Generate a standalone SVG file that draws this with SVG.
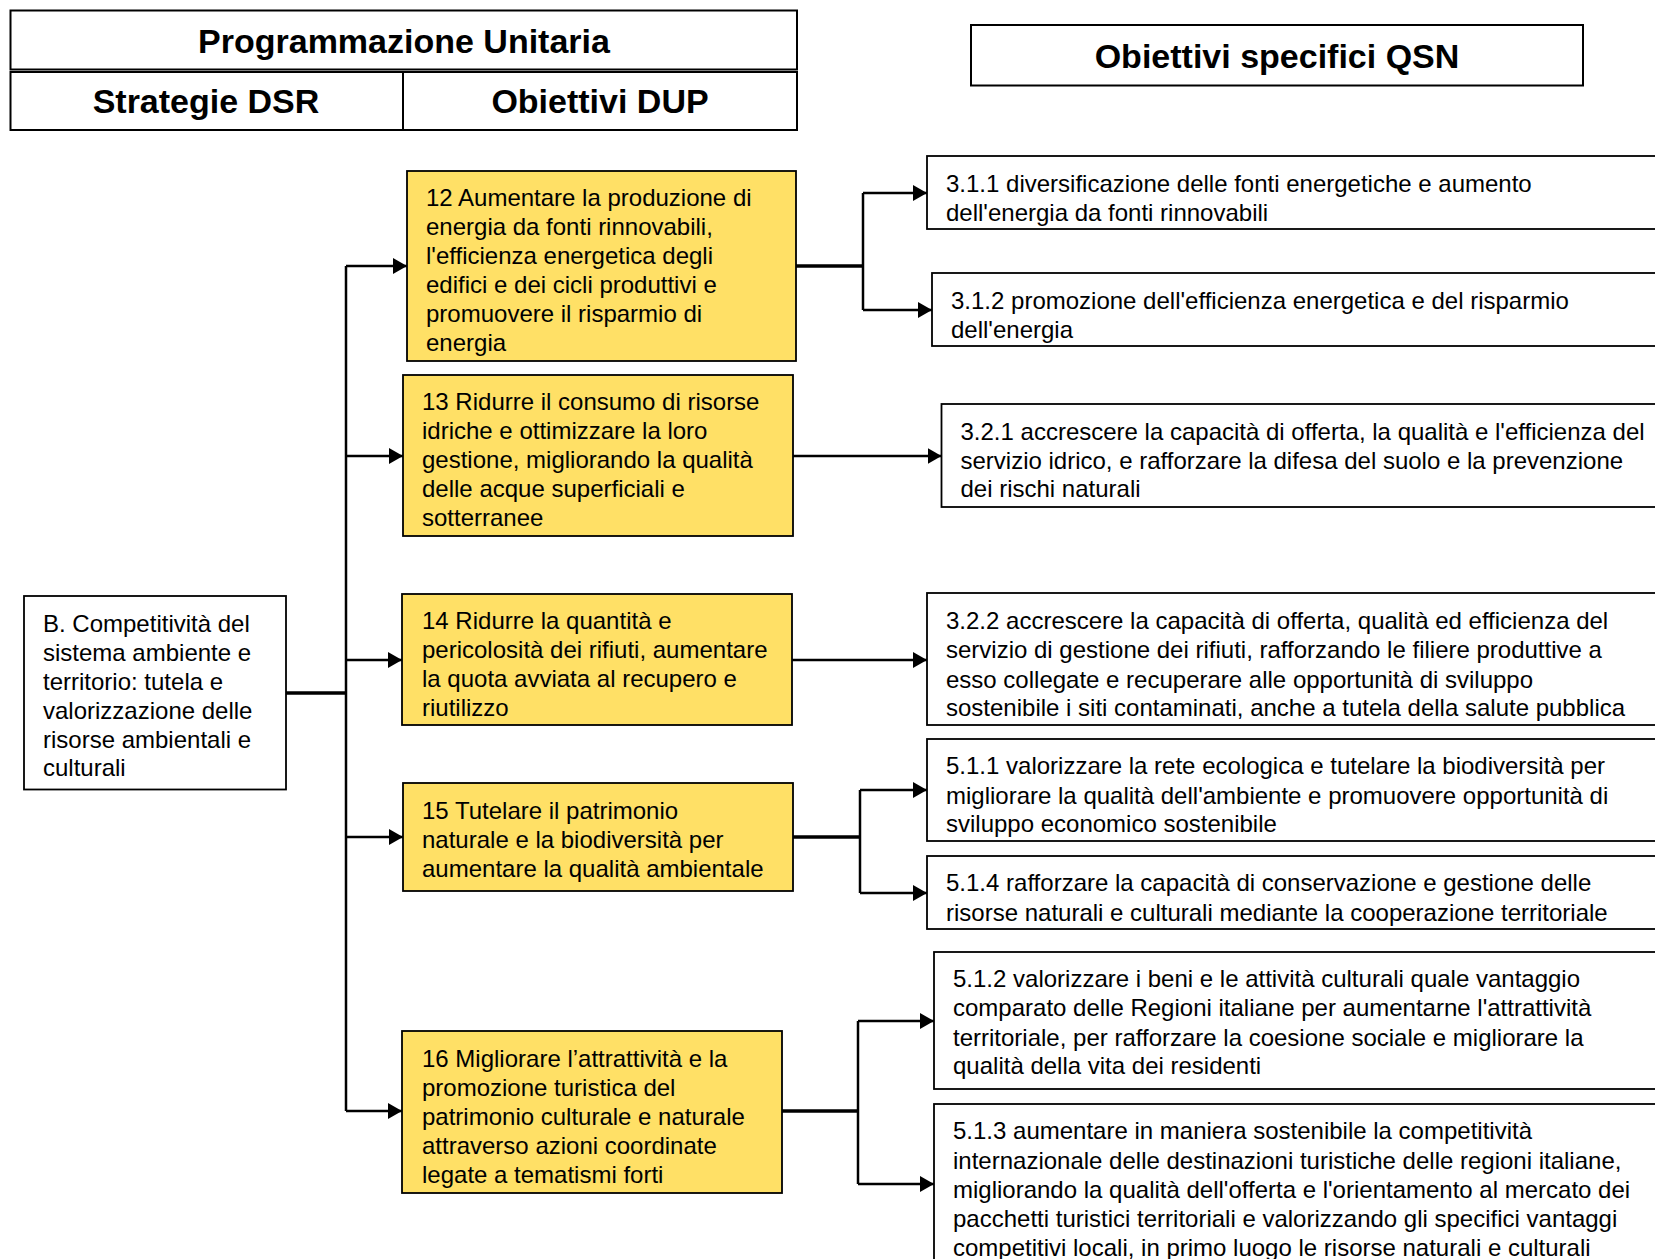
<svg xmlns="http://www.w3.org/2000/svg" width="1655" height="1259" viewBox="0 0 1655 1259">
<style>
.hdr{fill:#fff;stroke:#000;stroke-width:2}
.ht{font-family:"Liberation Sans",Arial,sans-serif;font-size:34px;font-weight:bold;text-anchor:middle;fill:#000}
.box{fill:#fff;stroke:#000;stroke-width:1.8}
.ybox{fill:#FFE066;stroke:#000;stroke-width:1.8}
.t{font-family:"Liberation Sans",Arial,sans-serif;font-size:24px;fill:#000}
.c{fill:none;stroke:#000;stroke-width:2.5}
.ct{fill:none;stroke:#000;stroke-width:3.5}
</style>
<defs>
<marker id="ah" markerUnits="userSpaceOnUse" markerWidth="14" markerHeight="16" refX="14" refY="8" orient="auto">
<path d="M0,0 L14,8 L0,16 z" fill="#000"/>
</marker>
</defs>
<rect width="1655" height="1259" fill="#fff"/>

<g id="header-pu">
<rect class="hdr" x="10.5" y="10.5" width="786.5" height="59"/>
<rect class="hdr" x="10.5" y="72" width="786.5" height="58"/>
<line x1="403" y1="72" x2="403" y2="130" stroke="#000" stroke-width="2"/>
<text class="ht" x="404" y="53">Programmazione Unitaria</text>
<text class="ht" x="206" y="113">Strategie DSR</text>
<text class="ht" x="600" y="113">Obiettivi DUP</text>
</g>

<g id="header-qsn">
<rect class="hdr" x="971" y="25" width="612" height="60.5"/>
<text class="ht" x="1277" y="68">Obiettivi specifici QSN</text>
</g>

<g id="node-B">
<rect class="box" x="24" y="596" width="262" height="193.5"/>
<text class="t" x="43" y="632">B. Competitività del</text>
<text class="t" x="43" y="661">sistema ambiente e</text>
<text class="t" x="43" y="690">territorio: tutela e</text>
<text class="t" x="43" y="719">valorizzazione delle</text>
<text class="t" x="43" y="748">risorse ambientali e</text>
<text class="t" x="43" y="776">culturali</text>
</g>

<g id="node-12">
<rect class="ybox" x="407" y="171" width="389" height="190"/>
<text class="t" x="426" y="206">12 Aumentare la produzione di</text>
<text class="t" x="426" y="235">energia da fonti rinnovabili,</text>
<text class="t" x="426" y="264">l'efficienza energetica degli</text>
<text class="t" x="426" y="293">edifici e dei cicli produttivi e</text>
<text class="t" x="426" y="322">promuovere il risparmio di</text>
<text class="t" x="426" y="351">energia</text>
</g>

<g id="node-13">
<rect class="ybox" x="403" y="375" width="390" height="161"/>
<text class="t" x="422" y="410">13 Ridurre il consumo di risorse</text>
<text class="t" x="422" y="439">idriche e ottimizzare la loro</text>
<text class="t" x="422" y="468">gestione, migliorando la qualità</text>
<text class="t" x="422" y="497">delle acque superficiali e</text>
<text class="t" x="422" y="526">sotterranee</text>
</g>

<g id="node-14">
<rect class="ybox" x="402" y="594" width="390" height="131"/>
<text class="t" x="422" y="629">14 Ridurre la quantità e</text>
<text class="t" x="422" y="658">pericolosità dei rifiuti, aumentare</text>
<text class="t" x="422" y="687">la quota avviata al recupero e</text>
<text class="t" x="422" y="716">riutilizzo</text>
</g>

<g id="node-15">
<rect class="ybox" x="403" y="783" width="390" height="108"/>
<text class="t" x="422" y="819">15 Tutelare il patrimonio</text>
<text class="t" x="422" y="848">naturale e la biodiversità per</text>
<text class="t" x="422" y="877">aumentare la qualità ambientale</text>
</g>

<g id="node-16">
<rect class="ybox" x="402" y="1031" width="380" height="162"/>
<text class="t" x="422" y="1067">16 Migliorare l’attrattività e la</text>
<text class="t" x="422" y="1096">promozione turistica del</text>
<text class="t" x="422" y="1125">patrimonio culturale e naturale</text>
<text class="t" x="422" y="1154">attraverso azioni coordinate</text>
<text class="t" x="422" y="1183">legate a tematismi forti</text>
</g>

<g id="node-311">
<rect class="box" x="927" y="156" width="740" height="73"/>
<text class="t" x="946" y="192">3.1.1 diversificazione delle fonti energetiche e aumento</text>
<text class="t" x="946" y="221">dell'energia da fonti rinnovabili</text>
</g>

<g id="node-312">
<rect class="box" x="932" y="273" width="740" height="73"/>
<text class="t" x="951" y="309">3.1.2 promozione dell'efficienza energetica e del risparmio</text>
<text class="t" x="951" y="338">dell'energia</text>
</g>

<g id="node-321">
<rect class="box" x="941.5" y="404" width="740" height="103"/>
<text class="t" x="960.5" y="440">3.2.1 accrescere la capacità di offerta, la qualità e l'efficienza del</text>
<text class="t" x="960.5" y="469">servizio idrico, e rafforzare la difesa del suolo e la prevenzione</text>
<text class="t" x="960.5" y="497">dei rischi naturali</text>
</g>

<g id="node-322">
<rect class="box" x="927" y="593" width="740" height="132"/>
<text class="t" x="946" y="629">3.2.2 accrescere la capacità di offerta, qualità ed efficienza del</text>
<text class="t" x="946" y="658">servizio di gestione dei rifiuti, rafforzando le filiere produttive a</text>
<text class="t" x="946" y="688">esso collegate e recuperare alle opportunità di sviluppo</text>
<text class="t" x="946" y="716">sostenibile i siti contaminati, anche a tutela della salute pubblica</text>
</g>

<g id="node-511">
<rect class="box" x="927" y="739" width="740" height="102"/>
<text class="t" x="946" y="774">5.1.1 valorizzare la rete ecologica e tutelare la biodiversità per</text>
<text class="t" x="946" y="804">migliorare la qualità dell'ambiente e promuovere opportunità di</text>
<text class="t" x="946" y="832">sviluppo economico sostenibile</text>
</g>

<g id="node-514">
<rect class="box" x="927" y="856" width="740" height="73"/>
<text class="t" x="946" y="891">5.1.4 rafforzare la capacità di conservazione e gestione delle</text>
<text class="t" x="946" y="921">risorse naturali e culturali mediante la cooperazione territoriale</text>
</g>

<g id="node-512">
<rect class="box" x="934" y="952" width="740" height="137"/>
<text class="t" x="953" y="987">5.1.2 valorizzare i beni e le attività culturali quale vantaggio</text>
<text class="t" x="953" y="1016">comparato delle Regioni italiane per aumentarne l'attrattività</text>
<text class="t" x="953" y="1046">territoriale, per rafforzare la coesione sociale e migliorare la</text>
<text class="t" x="953" y="1074">qualità della vita dei residenti</text>
</g>

<g id="node-513">
<rect class="box" x="934" y="1104" width="740" height="170"/>
<text class="t" x="953" y="1139">5.1.3 aumentare in maniera sostenibile la competitività</text>
<text class="t" x="953" y="1169">internazionale delle destinazioni turistiche delle regioni italiane,</text>
<text class="t" x="953" y="1198">migliorando la qualità dell'offerta e l'orientamento al mercato dei</text>
<text class="t" x="953" y="1227">pacchetti turistici territoriali e valorizzando gli specifici vantaggi</text>
<text class="t" x="953" y="1256">competitivi locali, in primo luogo le risorse naturali e culturali</text>
</g>

<g id="connectors">
<path class="ct" d="M286 693 H346"/>
<path class="c" d="M346 266 V1111"/>
<path class="c" d="M346 266 H407" marker-end="url(#ah)"/>
<path class="c" d="M346 456 H403" marker-end="url(#ah)"/>
<path class="c" d="M346 660 H402" marker-end="url(#ah)"/>
<path class="c" d="M346 837 H403" marker-end="url(#ah)"/>
<path class="c" d="M346 1111 H402" marker-end="url(#ah)"/>

<path class="ct" d="M796 266 H863"/>
<path class="c" d="M863 193 V310"/>
<path class="c" d="M863 193 H927" marker-end="url(#ah)"/>
<path class="c" d="M863 310 H932" marker-end="url(#ah)"/>

<path class="c" d="M793 456 H941.5" marker-end="url(#ah)"/>
<path class="c" d="M792 660 H927" marker-end="url(#ah)"/>

<path class="ct" d="M793 837 H860"/>
<path class="c" d="M860 790 V893"/>
<path class="c" d="M860 790 H927" marker-end="url(#ah)"/>
<path class="c" d="M860 893 H927" marker-end="url(#ah)"/>

<path class="ct" d="M782 1111 H858"/>
<path class="c" d="M858 1021 V1184"/>
<path class="c" d="M858 1021 H934" marker-end="url(#ah)"/>
<path class="c" d="M858 1184 H934" marker-end="url(#ah)"/>
</g>
</svg>
